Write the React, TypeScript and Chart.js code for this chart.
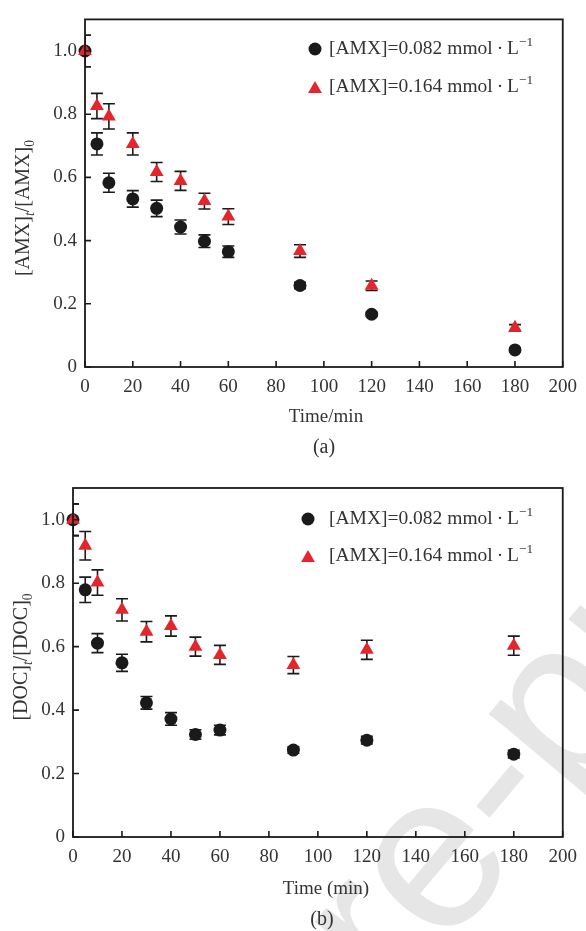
import React, { useEffect, useRef } from "react";
import { Chart, registerables } from "chart.js";

Chart.register(...registerables);

const SERIF = '"Liberation Serif", "Times New Roman", serif';
const TEXT_COLOR = "#333333";
const DARK = "#1a1a1a";
const RED = "#e3262b";

// ---------- data ----------
const timeMin = [0, 5, 10, 20, 30, 40, 50, 60, 90, 120, 180];
const xTickStep = 20;
const yTickStep = 0.2;

// (a) [AMX]t/[AMX]0
const amxLowA = [1.0, 0.706, 0.583, 0.532, 0.502, 0.443, 0.398, 0.365, 0.258, 0.167, 0.054];
const amxLowErrA = [0.05, 0.035, 0.03, 0.026, 0.026, 0.022, 0.02, 0.018, 0.01, 0.006, 0.006];
const amxHighA = [1.0, 0.826, 0.793, 0.706, 0.617, 0.589, 0.525, 0.476, 0.367, 0.257, 0.124];
const amxHighErrA = [0.05, 0.04, 0.04, 0.035, 0.03, 0.03, 0.025, 0.025, 0.02, 0.015, 0.01];

// (b) [DOC]t/[DOC]0
const docLowB = [1.0, 0.779, 0.611, 0.549, 0.423, 0.372, 0.323, 0.337, 0.274, 0.305, 0.261];
const docLowErrB = [0.05, 0.04, 0.03, 0.027, 0.02, 0.02, 0.015, 0.015, 0.01, 0.012, 0.012];
const docHighB = [1.0, 0.918, 0.802, 0.716, 0.647, 0.665, 0.6, 0.574, 0.542, 0.59, 0.603];
const docHighErrB = [0.05, 0.045, 0.04, 0.035, 0.032, 0.032, 0.03, 0.03, 0.027, 0.03, 0.03];

const seriesLowLabel = "[AMX]=0.082 mmol\u2009·\u2009L";
const seriesHighLabel = "[AMX]=0.164 mmol\u2009·\u2009L";
const labelSup = "−1";
const watermarkText = "Journal Pre-proof";

type Seg = { t: string; sub?: boolean; sup?: boolean; italic?: boolean };

function segFont(s: Seg, size: number) {
  const sz = s.sub || s.sup ? size * 0.68 : size;
  return `${s.italic ? "italic " : ""}${sz}px ${SERIF}`;
}

function segsWidth(ctx: CanvasRenderingContext2D, segs: Seg[], size: number) {
  let w = 0;
  for (const s of segs) {
    ctx.font = segFont(s, size);
    w += ctx.measureText(s.t).width;
  }
  return w;
}

function drawSegs(ctx: CanvasRenderingContext2D, segs: Seg[], x: number, y: number, size: number) {
  ctx.textBaseline = "middle";
  ctx.textAlign = "left";
  let cx = x;
  for (const s of segs) {
    ctx.font = segFont(s, size);
    let dy = 0;
    if (s.sub) dy = size * 0.32;
    if (s.sup) dy = -size * 0.32;
    ctx.fillText(s.t, cx, y + dy);
    cx += ctx.measureText(s.t).width;
  }
}

function drawTriangle(ctx: CanvasRenderingContext2D, x: number, y: number, r: number) {
  const a = (2 * Math.PI) / 3;
  ctx.beginPath();
  ctx.moveTo(x, y - r);
  ctx.lineTo(x + Math.sin(a) * r, y - Math.cos(a) * r);
  ctx.lineTo(x + Math.sin(2 * a) * r, y - Math.cos(2 * a) * r);
  ctx.closePath();
  ctx.fill();
}

type PanelCfg = {
  lowVals: number[];
  lowErr: number[];
  highVals: number[];
  highErr: number[];
  yTitle: Seg[];
  yTitlePos: [number, number];
  xTitle: string;
  xTitlePos: [number, number];
  panelLabel: string;
  panelLabelPos: [number, number];
  legendMarkerX: number;
  legendTextX: number;
  legendRowsY: [number, number];
  padTop: number;
  padRight: number;
  yAxisWidth: number;
  xAxisHeight: number;
};

function makeDecor(cfg: PanelCfg) {
  return {
    id: "decor",
    beforeDatasetsDraw(chart: any) {
      const { ctx, chartArea: ca, scales } = chart;
      const xs = scales.x;
      const ys = scales.y;
      const errs = [cfg.lowErr, cfg.highErr];
      const vals = [cfg.lowVals, cfg.highVals];
      ctx.save();
      ctx.beginPath();
      ctx.rect(ca.left, ca.top, ca.right - ca.left, ca.bottom - ca.top);
      ctx.clip();
      ctx.strokeStyle = DARK;
      ctx.lineWidth = 1.6;
      for (let i = 0; i < 2; i++) {
        vals[i].forEach((v, j) => {
          const e = errs[i][j];
          const px = xs.getPixelForValue(timeMin[j]);
          const top = ys.getPixelForValue(v + e);
          const bot = ys.getPixelForValue(v - e);
          ctx.beginPath();
          ctx.moveTo(px, top);
          ctx.lineTo(px, bot);
          ctx.moveTo(px - 6, top);
          ctx.lineTo(px + 6, top);
          ctx.moveTo(px - 6, bot);
          ctx.lineTo(px + 6, bot);
          ctx.stroke();
        });
      }
      ctx.restore();
    },
    afterDraw(chart: any) {
      const { ctx, chartArea: ca, scales } = chart;
      const xs = scales.x;
      const ys = scales.y;
      ctx.save();
      ctx.strokeStyle = DARK;
      ctx.lineWidth = 1.8;
      ctx.strokeRect(ca.left, ca.top, ca.right - ca.left, ca.bottom - ca.top);
      ctx.lineWidth = 1.6;
      ctx.beginPath();
      xs.ticks.forEach((t: any) => {
        const px = xs.getPixelForValue(t.value);
        ctx.moveTo(px, ca.bottom);
        ctx.lineTo(px, ca.bottom - 6);
      });
      ys.ticks.forEach((t: any) => {
        const py = ys.getPixelForValue(t.value);
        ctx.moveTo(ca.left, py);
        ctx.lineTo(ca.left + 6, py);
      });
      ctx.stroke();

      // legend
      ctx.fillStyle = DARK;
      ctx.beginPath();
      ctx.arc(cfg.legendMarkerX, cfg.legendRowsY[0], 6.5, 0, Math.PI * 2);
      ctx.fill();
      ctx.fillStyle = RED;
      drawTriangle(ctx, cfg.legendMarkerX, cfg.legendRowsY[1] + 2, 8);
      ctx.fillStyle = TEXT_COLOR;
      drawSegs(ctx, [{ t: seriesLowLabel }, { t: labelSup, sup: true }], cfg.legendTextX, cfg.legendRowsY[0], 19.5);
      drawSegs(ctx, [{ t: seriesHighLabel }, { t: labelSup, sup: true }], cfg.legendTextX, cfg.legendRowsY[1], 19.5);

      ctx.textAlign = "center";
      ctx.textBaseline = "middle";
      ctx.font = `19px ${SERIF}`;
      ctx.fillText(cfg.xTitle, cfg.xTitlePos[0], cfg.xTitlePos[1]);
      ctx.font = `20px ${SERIF}`;
      ctx.fillText(cfg.panelLabel, cfg.panelLabelPos[0], cfg.panelLabelPos[1]);

      ctx.save();
      ctx.translate(cfg.yTitlePos[0], cfg.yTitlePos[1]);
      ctx.rotate(-Math.PI / 2);
      const w = segsWidth(ctx, cfg.yTitle, 20);
      drawSegs(ctx, cfg.yTitle, -w / 2, 0, 20);
      ctx.restore();
      ctx.restore();
    },
  };
}

function buildConfig(cfg: PanelCfg): any {
  const pts = (vals: number[]) => vals.map((v, i) => ({ x: timeMin[i], y: v }));
  return {
    type: "scatter",
    data: {
      datasets: [
        {
          label: seriesLowLabel,
          data: pts(cfg.lowVals),
          pointStyle: "circle",
          pointRadius: 6.5,
          backgroundColor: DARK,
          borderWidth: 0,
          order: 1,
          clip: false,
        },
        {
          label: seriesHighLabel,
          data: pts(cfg.highVals),
          pointStyle: "triangle",
          pointRadius: 8,
          backgroundColor: RED,
          borderWidth: 0,
          order: 0,
          clip: false,
        },
      ],
    },
    options: {
      animation: false,
      responsive: true,
      maintainAspectRatio: false,
      devicePixelRatio: 1,
      layout: { padding: { top: cfg.padTop, right: cfg.padRight, left: 0, bottom: 0 } },
      plugins: { legend: { display: false }, tooltip: { enabled: false } },
      scales: {
        x: {
          type: "linear",
          min: 0,
          max: 200,
          grid: { display: false, drawTicks: false },
          border: { display: false },
          ticks: {
            stepSize: xTickStep,
            padding: 9,
            color: TEXT_COLOR,
            font: { family: SERIF, size: 19 },
            maxRotation: 0,
          },
          afterFit: (s: any) => {
            s.height = cfg.xAxisHeight;
          },
        },
        y: {
          type: "linear",
          min: 0,
          max: 1.1,
          grid: { display: false, drawTicks: false },
          border: { display: false },
          ticks: {
            stepSize: yTickStep,
            includeBounds: false,
            padding: 8,
            color: TEXT_COLOR,
            font: { family: SERIF, size: 19 },
            callback: (v: any) => (Number(v) === 0 ? "0" : Number(v).toFixed(1)),
          },
          afterFit: (s: any) => {
            s.width = cfg.yAxisWidth;
          },
        },
      },
    },
    plugins: [makeDecor(cfg)],
  };
}

const panelA: PanelCfg = {
  lowVals: amxLowA,
  lowErr: amxLowErrA,
  highVals: amxHighA,
  highErr: amxHighErrA,
  yTitle: [{ t: "[AMX]" }, { t: "t", sub: true, italic: true }, { t: "/[AMX]" }, { t: "0", sub: true }],
  yTitlePos: [24, 208],
  xTitle: "Time/min",
  xTitlePos: [326, 417],
  panelLabel: "(a)",
  panelLabelPos: [324, 448],
  legendMarkerX: 315,
  legendTextX: 329,
  legendRowsY: [49, 87],
  padTop: 16,
  padRight: 17,
  yAxisWidth: 85,
  xAxisHeight: 98,
};

const panelB: PanelCfg = {
  lowVals: docLowB,
  lowErr: docLowErrB,
  highVals: docHighB,
  highErr: docHighErrB,
  yTitle: [{ t: "[DOC]" }, { t: "t", sub: true, italic: true }, { t: "/[DOC]" }, { t: "0", sub: true }],
  yTitlePos: [22, 192],
  xTitle: "Time (min)",
  xTitlePos: [326, 424],
  panelLabel: "(b)",
  panelLabelPos: [322, 455],
  legendMarkerX: 308,
  legendTextX: 329,
  legendRowsY: [54, 91],
  padTop: 23,
  padRight: 17,
  yAxisWidth: 73,
  xAxisHeight: 94,
};

function Panel({ cfg, top, height }: { cfg: PanelCfg; top: number; height: number }) {
  const ref = useRef<HTMLCanvasElement | null>(null);
  useEffect(() => {
    if (!ref.current) return;
    const chart = new Chart(ref.current, buildConfig(cfg));
    return () => chart.destroy();
  }, [cfg]);
  return (
    <div style={{ position: "absolute", left: 0, top, width: 586, height, zIndex: 1 }}>
      <canvas ref={ref} />
    </div>
  );
}

export default function App() {
  return (
    <div
      style={{
        position: "absolute",
        left: 0,
        top: 0,
        width: 586,
        height: 931,
        overflow: "hidden",
        background: "#ffffff",
      }}
    >
      <div
        style={{
          position: "absolute",
          left: -352,
          top: 1606,
          transformOrigin: "0 0",
          transform: "rotate(-50deg)",
          fontFamily: '"Liberation Sans", Arial, sans-serif',
          fontSize: 222,
          lineHeight: 1,
          whiteSpace: "nowrap",
          color: "#e6e6e6",
          zIndex: 0,
        }}
      >
        {watermarkText}
      </div>
      <Panel cfg={panelA} top={0} height={465} />
      <Panel cfg={panelB} top={465} height={466} />
    </div>
  );
}
